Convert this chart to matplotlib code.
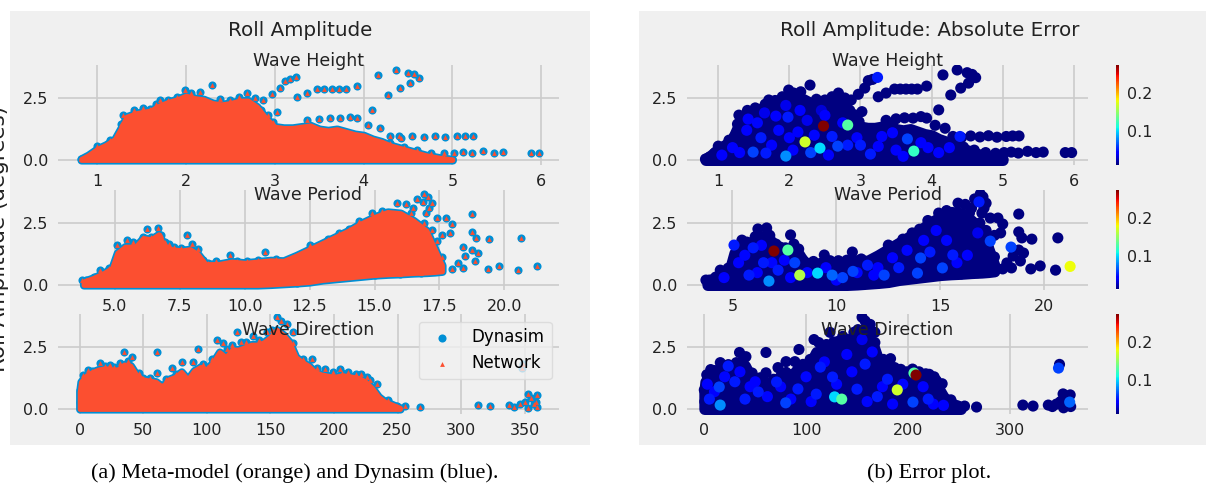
import numpy as np
import matplotlib.pyplot as plt
from matplotlib.patches import Rectangle
from matplotlib.colors import Normalize

# envelope of the dense part of each cloud: (x, low, high)
height_core = [(0.82, 0, 0.05), (0.9, 0, 0.2), (1.0, 0, 0.45), (1.1, 0, 0.62), (1.2, 0, 0.85), (1.27, 0, 1.3),
               (1.33, 0, 1.75), (1.45, 0, 1.9), (1.6, 0, 2.0), (1.7, 0, 2.2), (1.8, 0, 2.35), (1.9, 0, 2.45),
               (2.0, 0, 2.6), (2.1, 0, 2.5), (2.2, 0, 2.45), (2.3, 0, 2.3), (2.4, 0, 2.25), (2.5, 0, 2.3),
               (2.6, 0, 2.4), (2.7, 0, 2.4), (2.8, 0, 2.15), (2.9, 0, 1.7), (3.0, 0, 1.35), (3.1, 0, 1.3),
               (3.2, 0, 1.3), (3.3, 0, 1.35), (3.4, 0, 1.4), (3.5, 0, 1.25), (3.6, 0, 1.2), (3.7, 0, 1.25),
               (3.8, 0, 1.15), (3.9, 0, 1.05), (4.0, 0, 1.0), (4.1, 0, 0.85), (4.2, 0, 0.75), (4.3, 0, 0.6),
               (4.4, 0, 0.5), (4.5, 0, 0.4), (4.6, 0, 0.3), (4.7, 0, 0.2), (4.85, 0, 0.1), (5.0, 0, 0.03)]

period_core = [(3.8, 0, 0.15), (4.2, 0, 0.3), (4.6, 0, 0.5), (4.9, 0, 0.7), (5.1, 0, 1.3), (5.4, 0, 1.55),
               (5.8, 0, 1.55), (6.1, 0, 1.9), (6.4, 0, 1.85), (6.7, 0, 2.05), (6.9, 0, 1.6), (7.2, 0, 1.45),
               (7.6, 0, 1.4), (7.9, 0, 1.45), (8.2, 0, 1.25), (8.5, 0, 0.85), (9.0, 0, 0.85), (9.5, 0, 0.95),
               (10.0, 0, 0.9), (10.5, 0, 0.95), (11.0, 0.02, 1.0), (11.5, 0.05, 0.98), (12.0, 0.08, 1.2),
               (12.5, 0.12, 1.45), (13.0, 0.2, 1.7), (13.5, 0.25, 1.95), (14.0, 0.3, 2.2), (14.5, 0.35, 2.5),
               (15.0, 0.4, 2.75), (15.5, 0.43, 2.95), (16.0, 0.45, 2.9), (16.5, 0.48, 2.6), (17.0, 0.5, 2.2),
               (17.3, 0.52, 1.5), (17.6, 0.55, 0.8)]

direction_core = [(0, 0, 0.7), (1, 0, 1.1), (5, 0, 1.35), (10, 0, 1.5), (15, 0, 1.6), (20, 0, 1.65),
                  (25, 0, 1.6), (30, 0, 1.6), (35, 0, 1.8), (40, 0, 1.75), (45, 0, 1.35), (50, 0, 1.2),
                  (55, 0, 1.15), (60, 0, 1.1), (65, 0, 0.9), (70, 0, 1.2), (75, 0, 1.3), (80, 0, 1.5),
                  (85, 0, 1.2), (90, 0, 1.55), (95, 0, 1.7), (100, 0, 1.6), (105, 0, 1.9), (110, 0, 2.3),
                  (115, 0, 2.1), (120, 0, 2.4), (125, 0, 2.4), (130, 0, 2.5), (135, 0, 2.6), (140, 0, 2.6),
                  (145, 0, 2.7), (150, 0, 2.9), (155, 0, 3.2), (160, 0, 3.0), (165, 0, 2.7), (170, 0, 2.1),
                  (175, 0, 1.9), (180, 0, 1.75), (185, 0, 1.5), (190, 0, 1.4), (195, 0, 1.35), (200, 0, 1.3),
                  (205, 0, 1.35), (210, 0, 1.35), (215, 0, 1.3), (220, 0, 1.25), (225, 0, 1.1), (230, 0, 0.85),
                  (235, 0, 0.5), (240, 0, 0.3), (245, 0, 0.2), (252, 0, 0.05)]

# single samples: (x, roll amplitude, absolute error)
height_pts = [
    (0.82, 0.04, .01), (0.88, 0.12, .01), (0.95, 0.28, .01), (1.0, 0.56, .01), (1.07, 0.5, .01), (1.15, 0.8, .01),
    (1.22, 0.92, .01), (1.27, 1.45, .01), (1.29, 1.81, .01), (1.35, 1.7, .01), (1.41, 2.0, .01), (1.52, 2.1, .01),
    (1.6, 2.05, .01), (1.66, 2.25, .01), (1.71, 2.42, .01), (1.8, 2.4, .01), (1.9, 2.55, .01), (1.99, 2.82, .01),
    (2.06, 2.7, .01), (2.16, 2.75, .01), (2.29, 3.02, .01), (2.38, 2.45, .01), (2.5, 2.42, .01), (2.6, 2.55, .01),
    (2.69, 2.7, .01), (2.78, 2.5, .01), (2.87, 2.42, .01), (2.97, 2.65, .01), (3.06, 2.9, .01), (3.11, 3.2, .01),
    (3.17, 3.25, .01), (3.24, 3.33, .05), (2.85, 2.0, .01), (2.92, 1.82, .01), (3.02, 1.95, .01), (2.98, 1.55, .01),
    (3.25, 2.55, .01), (3.36, 2.7, .01), (3.48, 2.86, .01), (3.56, 2.86, .01), (3.64, 2.86, .01), (3.72, 2.86, .01),
    (3.8, 2.86, .01), (3.93, 2.98, .01), (4.1, 2.02, .01), (4.27, 2.62, .01), (4.41, 2.9, .01), (4.52, 3.1, .01),
    (4.16, 3.43, .01), (4.36, 3.63, .01), (4.5, 3.52, .01), (4.57, 3.45, .01), (4.62, 3.32, .01),
    (3.36, 1.6, .01), (3.5, 1.66, .01), (3.62, 1.7, .01), (3.74, 1.69, .01), (3.85, 1.75, .01), (3.93, 1.69, .01),
    (4.05, 1.4, .01), (4.19, 1.28, .01), (4.3, 0.95, .01), (4.42, 0.9, .01), (4.55, 0.97, .01), (4.68, 0.93, .01),
    (4.8, 0.98, .01), (4.92, 0.92, .01), (5.05, 0.95, .01), (5.14, 0.97, .01), (5.23, 0.97, .01),
    (4.5, 0.28, .01), (4.62, 0.25, .01), (4.76, 0.3, .01), (4.9, 0.27, .01), (5.02, 0.3, .01), (5.12, 0.32, .01),
    (5.22, 0.28, .01), (5.35, 0.35, .01), (5.47, 0.3, .01), (5.57, 0.32, .01), (5.88, 0.3, .01), (5.97, 0.3, .01),
    (4.3, 0.68, .01), (4.45, 0.52, .01), (4.6, 0.4, .01), (4.75, 0.22, .01), (4.9, 0.12, .01), (5.0, 0.05, .01),
    (1.2, 0.5, .04), (1.4, 1.2, .04), (1.55, 1.5, .045), (1.75, 0.6, .04), (1.85, 1.2, .045), (2.05, 0.4, .04),
    (2.15, 2.0, .04), (2.35, 1.0, .045), (2.55, 0.2, .04), (2.75, 1.5, .04), (2.95, 0.9, .04), (3.25, 0.55, .04),
    (3.45, 1.1, .04), (3.6, 0.15, .04), (3.85, 0.7, .04), (4.1, 0.3, .04), (4.25, 0.5, .04), (1.05, 0.2, .04),
    (2.25, 1.6, .035), (1.65, 1.9, .035), (1.95, 2.2, .035), (2.45, 2.0, .03),
    (1.42, 1.65, .04), (1.81, 1.77, .04), (1.98, 1.73, .05), (1.49, 0.32, .06), (1.67, 0.28, .05), (2.68, 0.56, .06),
    (2.82, 0.6, .05), (3.14, 0.24, .05), (3.66, 0.85, .06), (2.12, 1.13, .04), (1.3, 0.3, .04), (2.3, 0.3, .06),
    (2.6, 0.95, .05), (3.0, 0.6, .05), (3.5, 0.4, .04), (3.95, 0.5, .04), (1.6, 0.9, .05), (2.0, 0.9, .04),
    (2.5, 1.8, .04), (3.3, 0.95, .04), (4.4, 0.95, .05),
    (1.95, 0.16, .08), (2.43, 0.48, .10), (3.75, 0.36, .12), (2.22, 0.73, .17), (2.82, 1.41, .13), (2.48, 1.37, .276),
]

period_pts = [
    (3.73, 0.2, .01), (3.9, 0.2, .01), (4.2, 0.32, .01), (4.42, 0.6, .01), (4.8, 0.68, .01), (5.08, 1.61, .05),
    (5.2, 1.3, .01), (5.46, 1.81, .01), (5.7, 1.73, .01), (5.95, 1.7, .01), (6.1, 1.95, .01), (6.23, 2.26, .01),
    (6.4, 1.95, .01), (6.65, 2.3, .01), (6.8, 2.0, .01), (6.92, 1.73, .01), (7.1, 1.65, .01), (7.3, 1.53, .01),
    (7.55, 1.5, .01), (7.8, 2.02, .01), (7.96, 1.65, .01), (8.19, 1.45, .01), (8.4, 1.0, .01), (8.58, 0.89, .01),
    (8.9, 0.95, .01), (9.42, 1.21, .01), (9.7, 0.98, .01), (10.1, 0.98, .01), (10.5, 1.0, .01), (10.77, 1.33, .01),
    (11.2, 1.05, .01), (11.73, 1.0, .01), (12.1, 1.15, .01), (12.5, 1.61, .01), (12.8, 1.5, .01), (13.2, 1.85, .01),
    (13.65, 2.1, .01), (14.0, 2.25, .01), (14.4, 2.6, .01), (14.92, 2.9, .01), (15.3, 3.0, .01), (15.85, 3.3, .01),
    (16.2, 3.25, .01), (16.65, 3.47, .01), (16.92, 3.67, .01), (17.05, 3.55, .01), (17.2, 3.3, .01), (17.1, 3.1, .01),
    (16.5, 3.1, .01), (15.6, 2.2, .01), (16.0, 2.0, .01), (16.3, 1.6, .01), (16.6, 1.9, .01), (16.8, 1.4, .01),
    (17.0, 1.9, .01), (17.2, 2.2, .01), (17.4, 2.7, .01), (17.3, 1.5, .01), (17.6, 1.13, .01), (17.35, 0.85, .01),
    (17.5, 0.6, .01), (16.7, 0.95, .01), (17.1, 0.7, .01), (16.4, 2.4, .01), (16.0, 2.7, .01), (16.4, 2.9, .01),
    (17.0, 2.9, .01), (17.6, 2.0, .01), (16.9, 2.5, .01), (16.2, 2.2, .01),
    (17.77, 2.7, .01), (18.0, 2.46, .01), (17.9, 2.1, .01), (18.77, 2.86, .01), (18.77, 2.14, .01), (18.92, 1.9, .01),
    (19.4, 1.85, .01), (18.4, 1.53, .06), (18.77, 1.41, .01), (19.0, 1.29, .01), (18.5, 1.17, .01), (18.2, 0.89, .01),
    (18.0, 0.65, .01), (18.42, 0.69, .01), (18.85, 0.97, .01), (19.35, 0.65, .01), (19.8, 0.77, .01), (20.54, 0.6, .01),
    (20.65, 1.9, .01), (12.0, 0.08, .01), (13.0, 0.25, .01), (14.0, 0.35, .01), (15.0, 0.42, .01), (16.0, 0.45, .01),
    (16.8, 0.5, .01),
    (4.6, 0.3, .04), (5.3, 0.9, .04), (5.6, 1.2, .045), (6.2, 0.5, .04), (6.4, 1.6, .04), (6.9, 0.9, .045),
    (7.5, 1.0, .04), (7.8, 0.3, .04), (8.6, 0.5, .045), (9.5, 0.7, .04), (10.0, 0.2, .04), (11.0, 0.5, .045),
    (12.0, 0.7, .04), (12.7, 1.1, .04), (13.4, 1.4, .045), (14.2, 1.8, .04), (14.8, 2.2, .04), (15.3, 1.8, .045),
    (15.8, 0.9, .04), (16.3, 1.2, .04), (16.8, 2.1, .035), (11.8, 0.4, .04),
    (14.05, 1.09, .06), (14.5, 1.33, .05), (15.6, 1.21, .05), (15.1, 0.69, .06), (13.9, 0.48, .06), (6.0, 1.5, .05),
    (6.5, 0.9, .05), (5.8, 0.4, .05), (7.2, 0.6, .05), (8.0, 0.9, .06), (9.8, 0.4, .07), (10.3, 0.3, .06),
    (10.8, 0.55, .06), (11.5, 0.8, .05), (12.3, 0.4, .06), (13.0, 0.7, .05), (17.4, 1.77, .06), (16.86, 3.35, .05),
    (6.76, 0.16, .08), (9.1, 0.48, .10), (8.24, 0.4, .16), (7.67, 1.41, .13), (21.24, 0.75, .18), (7.0, 1.37, .276),
]

direction_pts = [
    (0, 0.77, .01), (0.5, 0.3, .01), (2.4, 1.38, .01), (6.3, 1.59, .01), (10, 1.55, .01), (15.7, 1.87, .01),
    (20, 1.75, .01), (23.6, 1.79, .01), (27, 1.7, .01), (31.5, 1.87, .01), (34.6, 2.28, .01), (38, 1.95, .01),
    (40.9, 2.11, .01), (43.3, 1.38, .01), (47, 1.45, .01), (50, 1.25, .01), (55, 1.26, .01), (60.6, 2.28, .01),
    (60.6, 1.46, .01), (64.5, 0.98, .01), (68, 1.2, .01), (72.4, 1.67, .01), (76, 1.4, .01), (80.3, 1.91, .01),
    (84, 1.18, .01), (89, 1.91, .01), (93, 2.4, .01), (97, 1.8, .01), (100, 1.71, .01), (104, 2.0, .01),
    (107.8, 2.8, .01), (112.5, 2.68, .01), (116, 2.4, .01), (120, 2.6, .01), (123.5, 3.09, .01), (127, 2.7, .01),
    (131, 2.72, .01), (136, 2.93, .01), (141, 2.8, .01), (147, 3.09, .01), (151, 3.2, .01), (155, 3.7, .01),
    (158, 3.55, .01), (163, 3.41, .01), (167.6, 3.09, .01), (167.6, 2.68, .01), (169, 2.07, .01), (176, 2.0, .01),
    (183, 2.03, .01), (187, 1.67, .01), (193, 1.6, .01), (199, 1.5, .01), (204.6, 1.61, .01), (211, 1.5, .01),
    (217.6, 1.42, .01), (221, 1.4, .01), (225.8, 1.3, .01), (228, 1.15, .01), (233.7, 1.02, .01), (225.8, 0.69, .01),
    (236, 0.28, .01), (242.3, 0.37, .01), (249.4, 0.12, .01), (255.7, 0.12, .01), (267.5, 0.08, .01),
    (313, 0.16, .01), (323, 0.12, .01), (338, 0.16, .01), (342, 0.1, .01), (346, 0.2, .01), (350, 0.3, .01),
    (352.5, 0.61, .01), (355, 0.45, .01), (359.5, 0.57, .01), (357, 0.2, .01), (360, 0.1, .01), (353, 0.05, .01),
    (349, 1.8, .01), (348, 1.65, .06), (359, 0.28, .07),
    (3, 1.0, .04), (10, 0.7, .04), (20, 1.3, .045), (35, 1.5, .04), (45, 0.9, .04), (62, 0.5, .045),
    (75, 0.9, .04), (85, 0.4, .04), (100, 1.3, .045), (105, 0.3, .04), (118, 1.9, .04), (130, 1.0, .045),
    (140, 2.2, .04), (145, 1.5, .04), (160, 0.3, .045), (165, 2.3, .04), (175, 0.9, .04), (195, 1.0, .045),
    (215, 0.9, .04), (225, 0.2, .04), (235, 0.15, .04), (155, 2.8, .035), (50, 1.1, .04), (185, 0.2, .04),
    (114, 1.69, .05), (158, 1.81, .05), (126, 1.29, .05), (92, 0.81, .05), (53, 0.69, .05), (205, 0.28, .06),
    (14.7, 0.89, .06), (23.5, 1.73, .05), (71, 1.09, .05), (40, 0.4, .05), (110, 0.6, .05), (150, 0.8, .05),
    (170, 0.5, .05), (220, 0.4, .05), (180, 1.2, .05), (30, 1.1, .05), (80, 0.25, .06), (5, 0.4, .05),
    (15.6, 0.16, .08), (128, 0.49, .10), (135, 0.4, .13), (189.6, 0.77, .17), (206, 1.45, .13), (208, 1.37, .276),
]

titles = ['Wave Height', 'Wave Period', 'Wave Direction']
xlims = [(0.56, 6.2), (2.82, 22.1), (-17, 377)]
ticks_a = [[1, 2, 3, 4, 5, 6], [5, 7.5, 10, 12.5, 15, 17.5, 20], [0, 50, 100, 150, 200, 250, 300, 350]]
labels_a = [['1', '2', '3', '4', '5', '6'], ['5.0', '7.5', '10.0', '12.5', '15.0', '17.5', '20.0'],
            ['0', '50', '100', '150', '200', '250', '300', '350']]
ticks_b = [[1, 2, 3, 4, 5, 6], [5, 10, 15, 20], [0, 100, 200, 300]]
yticks = [0, 2.5]
ylabels = ['0.0', '2.5']

blue = '#008fd5'
red = '#fc4f30'
bg = '#f0f0f0'

W, H = 1206, 483
fig = plt.figure(figsize=(W / 100, H / 100), dpi=100)


def box(l, t, r, b):
    return [l / W, 1 - b / H, (r - l) / W, (b - t) / H]


fig.patches.append(Rectangle((10 / W, 1 - 445 / H), 580 / W, 434 / H, transform=fig.transFigure,
                             facecolor=bg, edgecolor='none', zorder=-5))
fig.patches.append(Rectangle((639 / W, 1 - 445 / H), 567 / W, 434 / H, transform=fig.transFigure,
                             facecolor=bg, edgecolor='none', zorder=-5))


def style(ax, xlim, ticks, labels):
    ax.set_facecolor(bg)
    for s in ax.spines.values():
        s.set_visible(False)
    ax.set_axisbelow(True)
    ax.grid(True, color='#cbcbcb', lw=1.2)
    ax.set_xlim(*xlim)
    ax.set_ylim(-0.18, 3.83)
    ax.set_xticks(ticks)
    ax.set_xticklabels(labels)
    ax.set_yticks(yticks)
    ax.set_yticklabels(ylabels)
    ax.tick_params(length=0, labelsize=11.5, pad=7, colors='#222222')


cores = [height_core, period_core, direction_core]
pts = [height_pts, period_pts, direction_pts]
tops = [65, 190, 314]
title_base = [66, 200, 335]

all_err = np.concatenate([np.array(p)[:, 2] for p in pts])
norm = Normalize(all_err.min(), all_err.max())
cmap = plt.get_cmap('jet')
navy = cmap(norm(all_err.min()))

for i in range(3):
    cx, clo, chi = np.array(cores[i]).T
    px, py, perr = np.array(pts[i]).T
    t = tops[i]
    b = t + 99.5

    # (a) meta-model vs dynasim
    ax = fig.add_axes(box(58, t, 559, b))
    style(ax, xlims[i], ticks_a[i], labels_a[i])
    ax.fill_between(cx, clo, chi, facecolor=blue, edgecolor=blue, lw=5.8, joinstyle='round', zorder=2)
    d = ax.scatter(px, py, s=34, color=blue, lw=0, zorder=2, label='Dynasim')
    ax.fill_between(cx, clo, chi, facecolor=red, edgecolor=red, lw=3.4, joinstyle='round', zorder=3)
    n = ax.scatter(px, py, s=12, marker='^', color=red, lw=0, zorder=4, label='Network')
    fig.text(308.5 / W, 1 - title_base[i] / H, titles[i], ha='center', va='baseline', fontsize=12.5,
             color='#222222')
    if i == 2:
        ax.legend(handles=[d, n], loc='upper right', fontsize=12, facecolor=bg, edgecolor='#d8d8d8',
                  framealpha=0.8, scatterpoints=1, borderaxespad=0.45, labelspacing=0.5)

    # (b) absolute error
    ax = fig.add_axes(box(687, t, 1088, b))
    style(ax, xlims[i], ticks_b[i], [str(v) for v in ticks_b[i]])
    ax.fill_between(cx, clo, chi, facecolor=navy, edgecolor=navy, lw=7.9, joinstyle='round', zorder=2)
    order = np.argsort(perr)
    sc = ax.scatter(px[order], py[order], c=perr[order], cmap=cmap, norm=norm, s=64, lw=0, zorder=3)
    fig.text(887.5 / W, 1 - title_base[i] / H, titles[i], ha='center', va='baseline', fontsize=12.5,
             color='#222222')
    cax = fig.add_axes(box(1116, t, 1119, b))
    cb = fig.colorbar(sc, cax=cax, ticks=[0.1, 0.2])
    cb.outline.set_visible(False)
    cax.tick_params(length=0, labelsize=11.5, pad=6, colors='#222222')

fig.text(300 / W, 1 - 36 / H, 'Roll Amplitude', ha='center', va='baseline', fontsize=14.3, color='#222222')
fig.text(930 / W, 1 - 36 / H, 'Roll Amplitude: Absolute Error', ha='center', va='baseline', fontsize=14.3,
         color='#222222')
fig.text(9 / W, 1 - 239 / H, 'Roll Amplitude (degrees)', rotation=90, ha='right', va='center',
         fontsize=15.5, color='#222222')

fig.text(295 / W, 1 - 478 / H, '(a) Meta-model (orange) and Dynasim (blue).', ha='center', va='baseline',
         fontsize=16, family='Liberation Serif')
fig.text(929 / W, 1 - 478 / H, '(b) Error plot.', ha='center', va='baseline', fontsize=16,
         family='Liberation Serif')

fig.savefig('out.png', dpi=100, facecolor='white')
